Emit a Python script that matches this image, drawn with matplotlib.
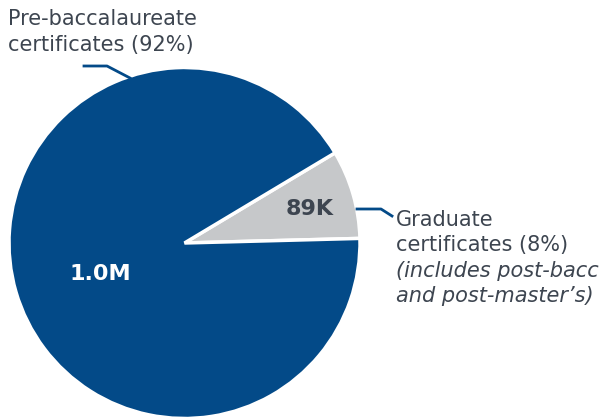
import matplotlib.pyplot as plt

plt.rcParams["font.family"] = "DejaVu Sans"

labels = ["Graduate", "Pre-baccalaureate"]
counts = [89000, 1000000]
value_text = ["89K", "1.0M"]
colors = ["#c6c8ca", "#034a88"]

fig = plt.figure(figsize=(6.08, 4.18), dpi=100)
ax = fig.add_axes([0, 0, 1, 1])
H = 418

# pie in pixel units, y measured from the bottom
cx, cy, r = 184.5, H - 243, 175.5
ax.pie(counts, colors=colors, startangle=1.5, counterclock=True,
       center=(cx, cy), radius=r,
       wedgeprops=dict(edgecolor="white", linewidth=2.5))
ax.set_xlim(0, 608)
ax.set_ylim(0, H)
ax.set_aspect("equal")
ax.axis("off")

txt = "#3d4550"
ax.text(310, H - 209, value_text[0], ha="center", va="center",
        fontsize=16, fontweight="bold", color=txt)
ax.text(100, H - 274, value_text[1], ha="center", va="center",
        fontsize=16, fontweight="bold", color="white")

top_lines = ["Pre-baccalaureate", "certificates (92%)"]
for i, line in enumerate(top_lines):
    ax.text(8, H - 19 - 26 * i, line, ha="left", va="center",
            fontsize=15, color=txt)
ax.plot([84, 107, 130], [H - 66, H - 66, H - 78], color="#034a88", lw=2)

right_lines = [("Graduate", "normal"), ("certificates (8%)", "normal"),
               ("(includes post-bacc", "italic"), ("and post-master\u2019s)", "italic")]
for i, (line, st) in enumerate(right_lines):
    ax.text(396, H - 220 - 25.5 * i, line, ha="left", va="center",
            fontsize=15, color=txt, style=st)
ax.plot([357, 381, 392], [H - 209, H - 209, H - 216], color="#034a88", lw=2)

fig.savefig("out.png", dpi=100)
